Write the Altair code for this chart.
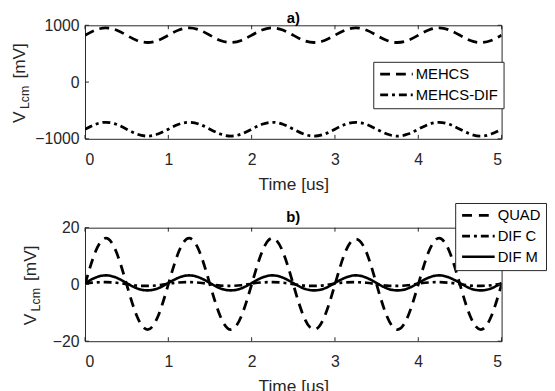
import altair as alt
import pandas as pd

# ---- data ----
time_us = [0, 0.125, 0.25, 0.375, 0.5, 0.625, 0.75, 0.875,
           1, 1.125, 1.25, 1.375, 1.5, 1.625, 1.75, 1.875,
           2, 2.125, 2.25, 2.375, 2.5, 2.625, 2.75, 2.875,
           3, 3.125, 3.25, 3.375, 3.5, 3.625, 3.75, 3.875,
           4, 4.125, 4.25, 4.375, 4.5, 4.625, 4.75, 4.875, 5]

mehcs = [825, 917, 955, 917, 825, 733, 697, 733,
         825, 917, 955, 917, 825, 733, 697, 733,
         825, 917, 955, 917, 825, 733, 697, 733,
         825, 917, 955, 917, 825, 733, 697, 733,
         825, 917, 955, 917, 825, 733, 697, 733, 825]
mehcs_dif = [-830, -744, -708, -744, -830, -916, -952, -916,
             -830, -744, -708, -744, -830, -916, -952, -916,
             -830, -744, -708, -744, -830, -916, -952, -916,
             -830, -744, -708, -744, -830, -916, -952, -916,
             -830, -744, -708, -744, -830, -916, -952, -916, -830]

quad = [0, 11.5, 16.3, 11.5, 0, -11.3, -15.9, -11.3,
        0, 11.5, 16.3, 11.5, 0, -11.3, -15.9, -11.3,
        0, 11.5, 16.3, 11.5, 0, -11.3, -15.9, -11.3,
        0, 11.5, 16.0, 11.5, 0, -11.3, -15.9, -11.3,
        0, 11.5, 16.3, 11.5, 0, -11.3, -15.9, -11.3, 0]
dif_c = [0.3, 0.7, 0.8, 0.6, 0.1, -0.4, -0.5, -0.3,
         0.3, 0.7, 0.8, 0.6, 0.1, -0.4, -0.5, -0.3,
         0.3, 0.7, 0.8, 0.6, 0.1, -0.4, -0.5, -0.3,
         0.3, 0.7, 0.8, 0.6, 0.1, -0.4, -0.5, -0.3,
         0.3, 0.7, 0.8, 0.6, 0.1, -0.4, -0.5, -0.3, 0.3]
dif_m = [0.5, 2.4, 3.2, 2.4, 0.5, -1.4, -2.1, -1.4,
         0.5, 2.4, 3.2, 2.4, 0.5, -1.4, -2.1, -1.4,
         0.5, 2.4, 3.2, 2.4, 0.5, -1.4, -2.1, -1.4,
         0.5, 2.4, 3.2, 2.4, 0.5, -1.4, -2.1, -1.4,
         0.5, 2.4, 3.2, 2.4, 0.5, -1.4, -2.1, -1.4, 0.5]

series_a = ["MEHCS", "MEHCS-DIF"]
series_b = ["QUAD", "DIF C", "DIF M"]
x_ticks = [0, 1, 2, 3, 4, 5]
y_ticks_a = [-1000, 0, 1000]
y_ticks_b = [-20, 0, 20]

FONT = "Liberation Sans"
INK = "#262626"
W, H = 422, 115

df_a = pd.concat([
    pd.DataFrame({"t": time_us, "v": mehcs, "s": series_a[0]}),
    pd.DataFrame({"t": time_us, "v": mehcs_dif, "s": series_a[1]}),
])
df_b = pd.concat([
    pd.DataFrame({"t": time_us, "v": quad, "s": series_b[0]}),
    pd.DataFrame({"t": time_us, "v": dif_c, "s": series_b[1]}),
    pd.DataFrame({"t": time_us, "v": dif_m, "s": series_b[2]}),
])


def panel(df, series, dashes, widths, y_dom, y_ticks, title, title_y, leg_x, leg_y, title_x):
    xs = alt.Scale(domain=[0, 5], nice=False, zero=False)
    ys = alt.Scale(domain=y_dom, nice=False, zero=False)
    ax_x = alt.Axis(values=x_ticks, format="d", title="Time [us]", labelPadding=13, titlePadding=8)
    ax_y = alt.Axis(values=y_ticks, format="d", title=None, labelPadding=6)
    lines = alt.Chart(df).mark_line(interpolate="natural", color="black", clip=True).encode(
        x=alt.X("t:Q", scale=xs, axis=ax_x),
        y=alt.Y("v:Q", scale=ys, axis=ax_y),
        strokeDash=alt.StrokeDash("s:N", scale=alt.Scale(domain=series, range=dashes),
                                  legend=alt.Legend(orient="none", legendX=leg_x, legendY=leg_y,
                                                    title=None)),
        strokeWidth=alt.StrokeWidth("s:N", scale=alt.Scale(domain=series, range=widths),
                                    legend=None),
    )
    xt = pd.DataFrame({"t": x_ticks})
    yt = pd.DataFrame({"v": y_ticks})
    tb = alt.Chart(xt).mark_rule(color=INK, strokeWidth=1).encode(
        x=alt.X("t:Q", scale=xs, axis=ax_x), y=alt.value(H), y2=alt.value(H - 4))
    tt = alt.Chart(xt).mark_rule(color=INK, strokeWidth=1).encode(
        x=alt.X("t:Q", scale=xs, axis=ax_x), y=alt.value(0), y2=alt.value(4))
    tl = alt.Chart(yt).mark_rule(color=INK, strokeWidth=1).encode(
        y=alt.Y("v:Q", scale=ys, axis=ax_y), x=alt.value(0), x2=alt.value(4))
    tr = alt.Chart(yt).mark_rule(color=INK, strokeWidth=1).encode(
        y=alt.Y("v:Q", scale=ys, axis=ax_y), x=alt.value(W), x2=alt.value(W - 4))
    one = pd.DataFrame({"k": [0]})
    t1 = alt.Chart(one).mark_text(text="[mV]", angle=270, fontSize=17.5, font=FONT, color=INK,
                                  align="center", baseline="middle").encode(
        x=alt.value(title_x), y=alt.value(36))
    t2 = alt.Chart(one).mark_text(text="Lcm", angle=270, fontSize=12.5, font=FONT, color=INK,
                                  align="center", baseline="middle").encode(
        x=alt.value(title_x + 5.5), y=alt.value(73))
    t3 = alt.Chart(one).mark_text(text="V", angle=270, fontSize=17.5, font=FONT, color=INK,
                                  align="center", baseline="middle").encode(
        x=alt.value(title_x), y=alt.value(93))
    tt_ = alt.Chart(one).mark_text(text=title, fontSize=15, fontWeight="bold", font=FONT,
                                   color="black", align="center", baseline="middle").encode(
        x=alt.value(W / 2), y=alt.value(title_y))
    return alt.layer(lines, tb, tt, tl, tr, t1, t2, t3, tt_).properties(width=W, height=H)


pa = panel(df_a, series_a, [[10, 6], [8, 4, 3, 4]], [2.8, 2.8], [-1000, 1000], y_ticks_a,
           "a)", -7.7, 292, 37, -65.8)
pb = panel(df_b, series_b, [[10, 7], [8, 4, 3, 4], [1, 0]], [2.8, 2.6, 3.0], [-20, 20], y_ticks_b,
           "b)", -10.7, 375, -25, -55)

chart = alt.vconcat(pa, pb, spacing=9).resolve_scale(
    strokeDash="independent", strokeWidth="independent"
).properties(
    padding={"left": 2, "top": -1, "right": 0, "bottom": 0}
).configure_view(
    stroke=INK, strokeWidth=1
).configure_axis(
    domain=False, ticks=False, tickSize=0, grid=False,
    labelFont=FONT, labelFontSize=16, labelColor=INK,
    titleFont=FONT, titleFontSize=17.5, titleFontWeight="normal", titleColor=INK,
).configure_legend(
    strokeColor=INK, fillColor="white", padding=5, rowPadding=5, cornerRadius=0,
    labelFont=FONT, labelFontSize=15, labelColor="black", labelOffset=23,
    symbolType="M-1,0H5", symbolSize=121,
    symbolStrokeWidth=2.8, symbolStrokeColor="black",
)

chart.save("out.html", embed_options={"renderer": "svg", "actions": False})
